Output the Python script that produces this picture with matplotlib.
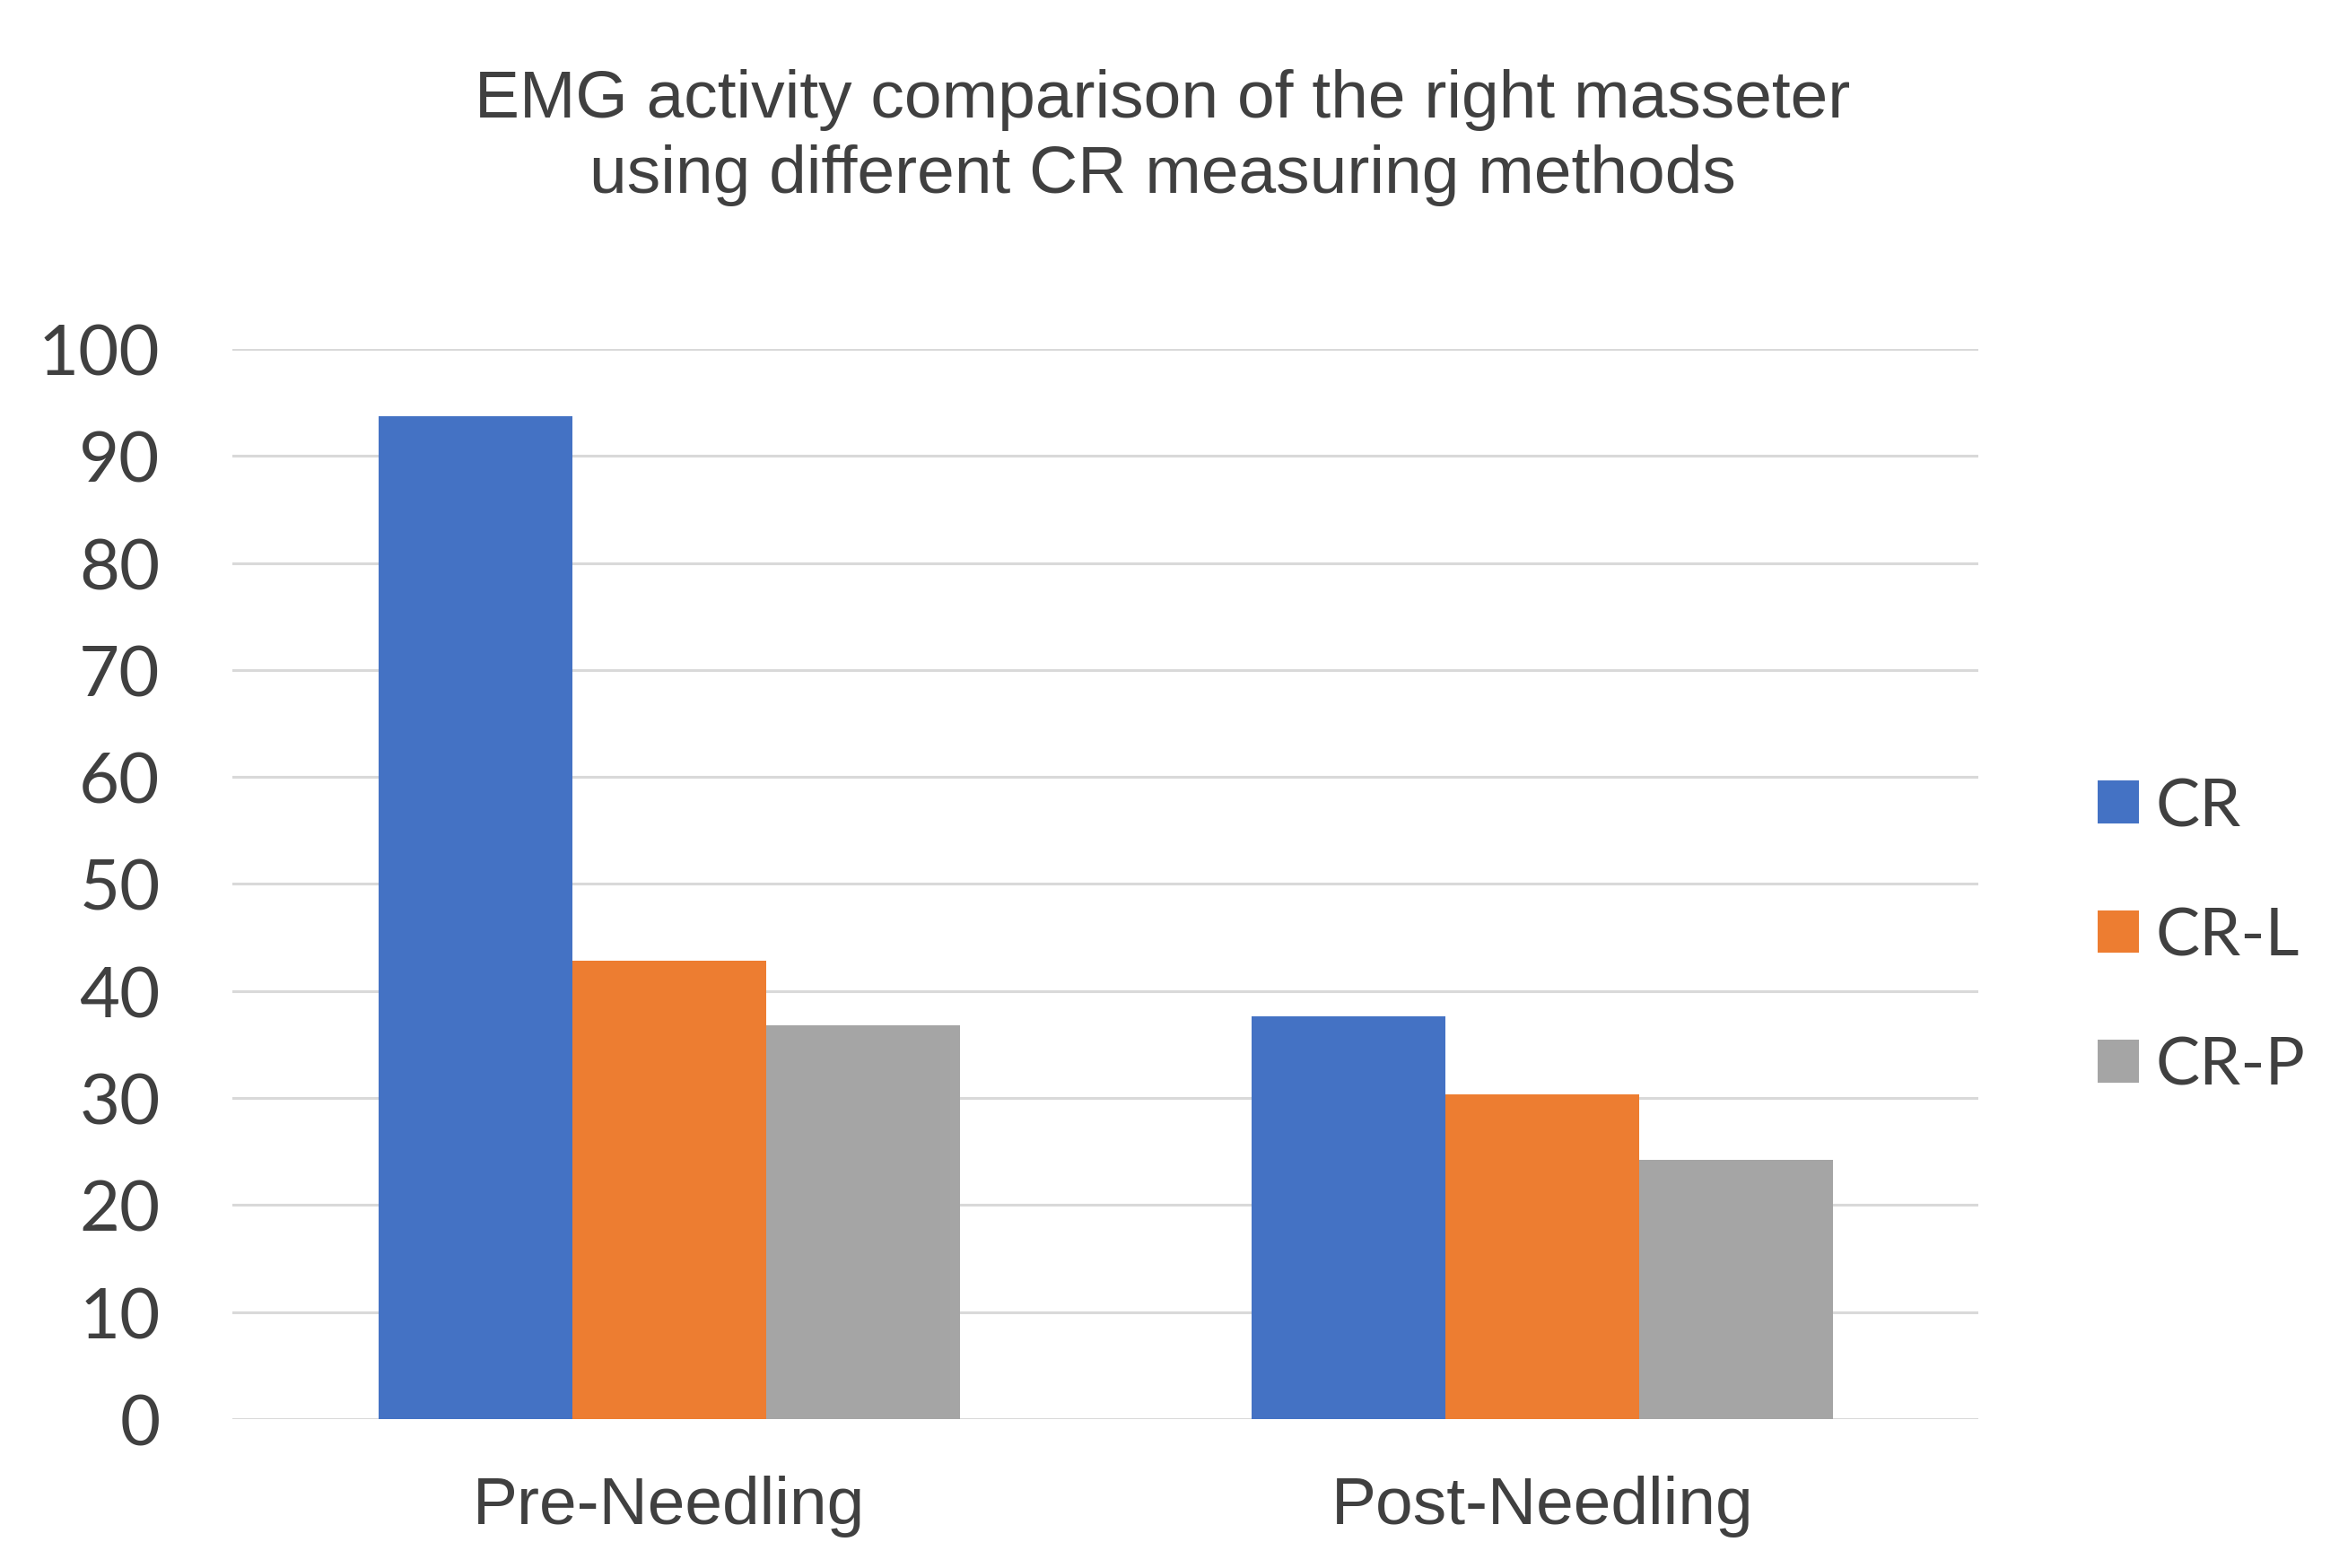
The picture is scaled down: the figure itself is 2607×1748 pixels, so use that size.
import matplotlib
matplotlib.use('Agg')
import matplotlib.pyplot as plt
import numpy as np

# values
groups = ['Pre-Needling', 'Post-Needling']
methods = ['CR', 'CR-L', 'CR-P']
cr_vals = [93.7, 42.8, 36.8]
post_vals = [37.6, 30.3, 24.2]
yticks = [0, 10, 20, 30, 40, 50, 60, 70, 80, 90, 100]
colors = ['#4472C4', '#ED7D31', '#A5A5A5']

series = {
    'CR': [cr_vals[0], post_vals[0]],
    'CR-L': [cr_vals[1], post_vals[1]],
    'CR-P': [cr_vals[2], post_vals[2]],
}

text_col = '#404040'
fig = plt.figure(figsize=(26.07, 17.49), dpi=100)
ax = fig.add_axes([0.0994, 0.095, 0.7465, 0.682])

x = np.arange(len(groups))
w = 0.222
for i, m in enumerate(methods):
    ax.bar(x + (i - 1) * w, series[m], width=w, color=colors[i], label=m, zorder=3)

ax.set_xlim(-0.5, 1.5)
ax.set_ylim(0, 100)
ax.set_yticks(yticks)
ax.set_yticklabels([str(t) for t in yticks], family='Lato', fontsize=56, color=text_col)
ax.yaxis.grid(True, color='#D9D9D9', linewidth=2.2, zorder=0)
ax.tick_params(axis='y', length=0, pad=58)
ax.tick_params(axis='x', length=0, pad=45)
ax.set_xticks(x)
ax.set_xticklabels(groups, family='Liberation Sans', fontsize=54, color=text_col)
for s in ax.spines.values():
    s.set_visible(False)

fig.text(0.497, 0.936, 'EMG activity comparison of the right masseter',
         ha='center', va='center', family='Liberation Sans', fontsize=54, color=text_col)
fig.text(0.497, 0.888, 'using different CR measuring methods',
         ha='center', va='center', family='Liberation Sans', fontsize=54, color=text_col)

leg = ax.legend(loc='center left', bbox_to_anchor=(0.897, 0.4025), bbox_transform=fig.transFigure,
                frameon=False, borderpad=0, borderaxespad=0,
                handlelength=0.62, handleheight=0.62, handletextpad=0.25,
                labelspacing=1.05, prop={'family': 'Lato', 'size': 53})
for t in leg.get_texts():
    t.set_color(text_col)

fig.savefig('out.png', dpi=100, facecolor='white')
